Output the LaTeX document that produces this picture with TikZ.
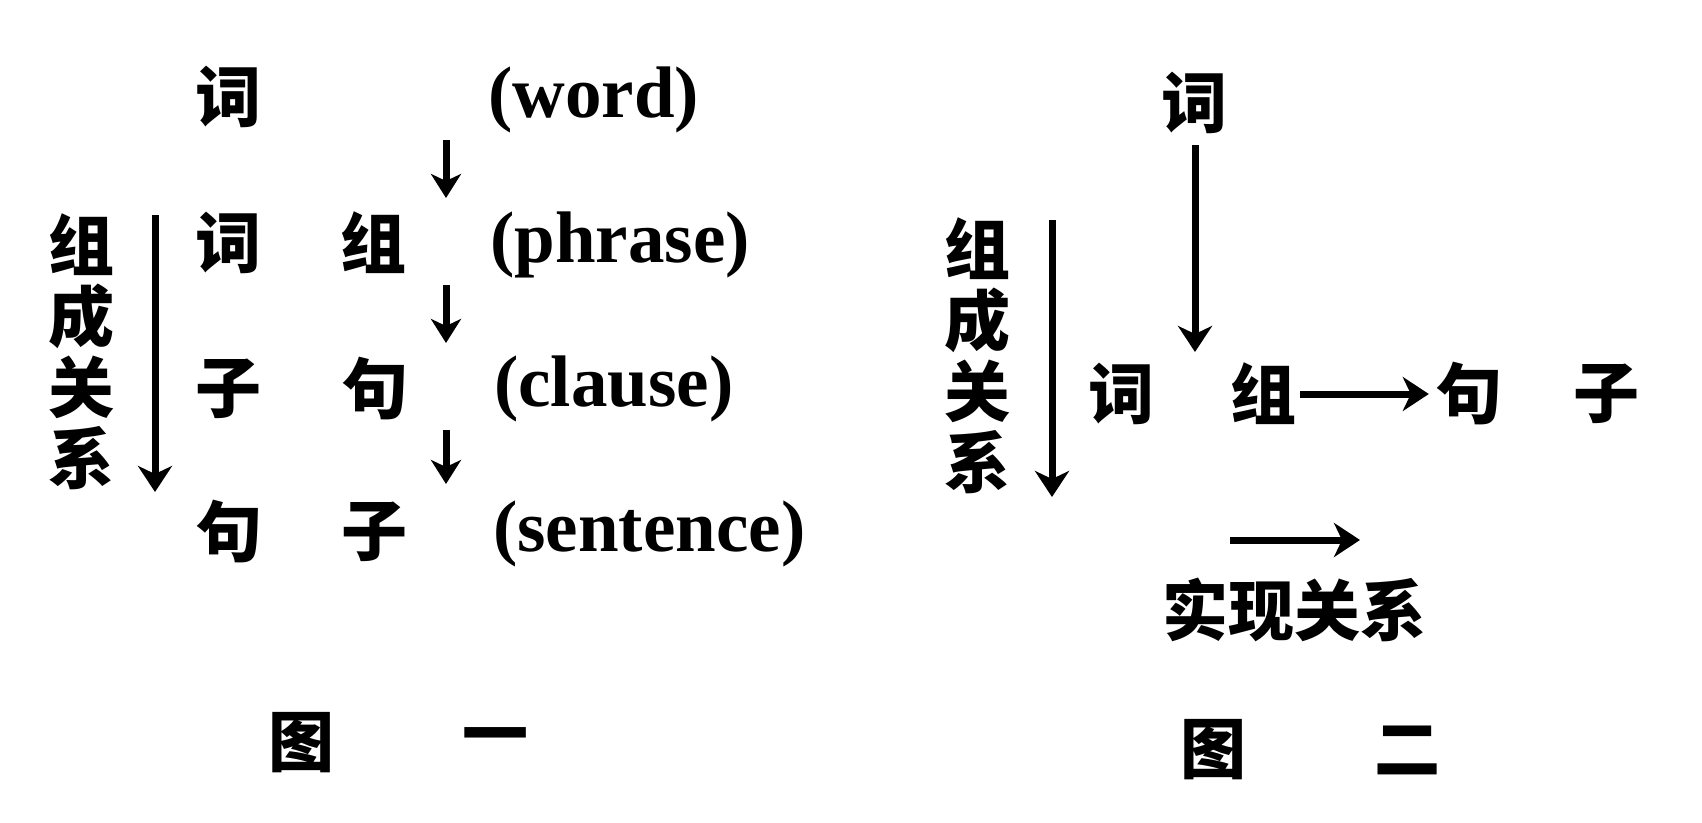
\documentclass[tikz,border=0pt]{standalone}
\usepackage{fontspec}
\setmainfont{Liberation Serif}
\newfontfamily\cjk{Noto Sans CJK SC}
\usetikzlibrary{arrows.meta}
\tikzset{
  zh/.style={font=\cjk\bfseries\fontsize{66}{71}\selectfont, inner sep=0pt, anchor=center},
  en/.style={font=\bfseries\fontsize{73}{73}\selectfont, inner sep=0pt, anchor=west},
  vlab/.style={zh, align=center},
  arr/.style={line width=7pt, -{Stealth[length=26pt,width=34pt,inset=8pt]}},
  sarr/.style={line width=7pt, -{Stealth[length=24pt,width=30pt,inset=7pt]}},
}
\begin{document}
\begin{tikzpicture}[x=1pt,y=-1pt]
\useasboundingbox (0,0) rectangle (1702,822);
% ---------- Figure 1 ----------
\node[zh] (c11) at (228,97) {词};
\node[en] (e1) at (488,100) {(word)};
\node[zh] (c21) at (228,243) {词};
\node[zh] (c22) at (373,243) {组};
\node[en] (e2) at (490,245) {(phrase)};
\node[zh] (c31) at (228,389) {子};
\node[zh] (c32) at (375,389) {句};
\node[en] (e3) at (494,389) {(clause)};
\node[zh] (c41) at (229,532) {句};
\node[zh] (c42) at (374,532) {子};
\node[en] (e4) at (493,534) {(sentence)};
\node[vlab] (lab1) at (81,352) {组\\成\\关\\系};
\node[zh] (t1a) at (301,743) {图};
\node[zh] (t1b) at (495,743) {一};
\coordinate (a1s) at (446,140); \coordinate (a1e) at (446,198);
\coordinate (a2s) at (446,285); \coordinate (a2e) at (446,343);
\coordinate (a3s) at (446,430); \coordinate (a3e) at (446,484);
\coordinate (l1s) at (155,215); \coordinate (l1e) at (155,492);
\draw[sarr] (a1s) -- (a1e);
\draw[sarr] (a2s) -- (a2e);
\draw[sarr] (a3s) -- (a3e);
\draw[arr] (l1s) -- (l1e);
% ---------- Figure 2 ----------
\node[zh] (w2) at (1194,103) {词};
\node[vlab] (lab2) at (977,356) {组\\成\\关\\系};
\node[zh] (ci2) at (1121,394) {词};
\node[zh] (zu2) at (1263,394) {组};
\node[zh] (ju2) at (1469,394) {句};
\node[zh] (zi2) at (1606,394) {子};
\node[zh] (sx2) at (1294,610) {实现关系};
\node[zh] (t2a) at (1213,750) {图};
\node[zh] (t2b) at (1407,750) {二};
\coordinate (v2s) at (1195,145); \coordinate (v2e) at (1195,352);
\coordinate (l2s) at (1052,220); \coordinate (l2e) at (1052,497);
\coordinate (h2s) at (1230,540); \coordinate (h2e) at (1360,540);
\draw[arr] (v2s) -- (v2e);
\draw[arr] (l2s) -- (l2e);
\draw[arr, shorten <=4pt, shorten >=7pt] (zu2.east) -- (ju2.west);
\draw[arr] (h2s) -- (h2e);
\end{tikzpicture}
\end{document}
